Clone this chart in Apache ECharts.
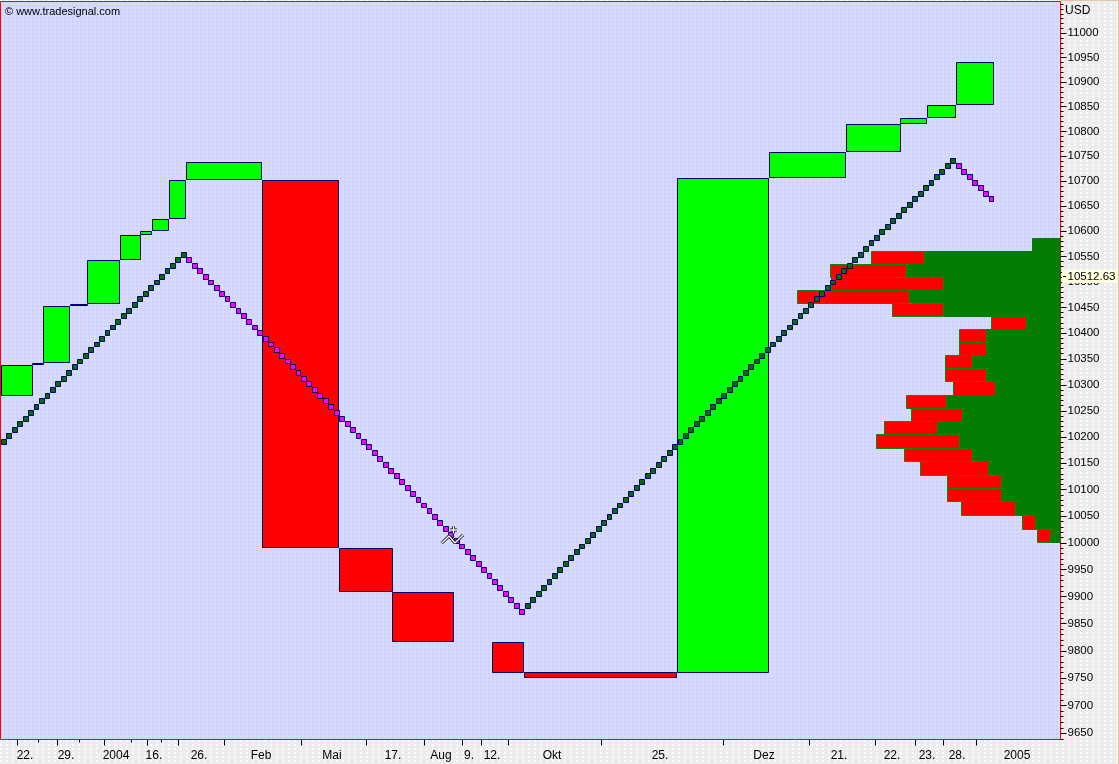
<!DOCTYPE html>
<html><head><meta charset="utf-8">
<style>
html,body{margin:0;padding:0;width:1119px;height:764px;overflow:hidden}
#page{position:relative;width:1119px;height:764px;background-color:#ececec;
 background-image:radial-gradient(circle at 1px 1px,#fbfbfb .7px,transparent .8px);background-size:6px 4px}
#plot{position:absolute;left:0;top:1px;width:1060px;height:739px;background-color:#d6daff;
 background-image:radial-gradient(circle at 1px 1px,#cdd1f8 .7px,transparent .8px);background-size:4px 4px}
#edgeR{position:absolute;left:1118px;top:0;width:1px;height:764px;background:#dcc9a8}
#edgeT{position:absolute;left:1061px;top:0;width:58px;height:1px;background:#dcc9a8}
#chart{position:absolute;left:0;top:0;width:1119px;height:764px}
</style></head><body><div id="page"><div id="plot"></div><div id="edgeR"></div><div id="edgeT"></div><div id="chart"></div></div>
<script src="https://cdn.jsdelivr.net/npm/echarts@6/dist/echarts.min.js"></script>
<script>
// Price boxes: bar index start / end, open / close
const boxStart=[-0.37,5.44,7.33,12.28,15.39,21.44,25.23,27.3,30.42,33.53,47.46,61.57,71.41,89.61,95.47,123.55,140.45,154.43,164.5,169.27,174.64];
const boxEnd=[5.31,7.28,12.22,15.34,21.26,25.11,27.19,30.24,33.35,47.35,61.46,71.32,82.5,95.36,123.42,140.31,154.34,164.41,169.17,174.53,181.42];
const boxOpen=[10280,10339,10344,10453,10457,10544.3,10593.6,10601.6,10625.6,10703,10701,9990,9908,9816,9759.6,9761,10707,10759,10816,10828,10854.5];
const boxClose=[10338,10341,10451,10455,10542.3,10591.8,10599.7,10623.5,10701,10737,9992,9910,9817,9761,9751,10705,10757,10814,10826,10852,10940];
// Swing line, one value per bar
const swingValues=[10192,10203,10214,10225,10236,10247,10258,10269,10280,10291,10302,10313,10324,10335,10346,10357,10368,10379,10390,10401,10412,10423,10434,10445,10456,10467,10478,10489,10500,10511,10522,10533,10544,10555,
10544,10533,10522,10511,10500,10489,10478,10467,10456,10445,10434,10423,10412,10401,10390,10379,10368,10357,10346,10335,10324,10313,10302,10291,10280,10269,10258,10247,10236,10225,10214,10203,10192,10181,10170,10159,10148,10137,10126,10115,10104,10093,10082,10071,10060,10049,10038,10027,10016,10005,9994,9983,9972,9961,9950,9939,9928,9917,9906,9895,9884,9873,
9884,9895,9906,9917,9928,9939,9950,9961,9972,9983,9994,10005,10016,10027,10038,10049,10060,10071,10082,10093,10104,10115,10126,10137,10148,10159,10170,10181,10192,10203,10214,10225,10236,10247,10258,10269,10280,10291,10302,10313,10324,10335,10346,10357,10368,10379,10390,10401,10412,10423,10434,10445,10456,10467,10478,10489,10500,10511,10522,10533,10544,10555,10566,10577,10588,10599,10610,10621,10632,10643,10654,10665,10676,10687,10698,10709,10720,10731,10742,
10731,10720,10709,10698,10687,10676,10665];
// Volume profile: price band edges and volumes per band, top band first
const bandEdges=[10586,10561,10535,10508,10484,10458,10432,10408,10382,10357,10331,10306,10280,10255,10230,10205,10178,10153,10126,10102,10077,10051,10025,10001];
const greenVolume=[27.7,136,154,116.7,150.7,116.7,34,74,74,88,74,64.7,114,98,122.7,100.7,88,72,58.7,58.7,44.7,24.7,10];
const redVolume=[0,52.7,76.3,112.7,112.7,51.7,35.3,27,27.3,27.3,41.3,42.7,40.3,51.3,53.7,83.7,68.3,68.3,54.7,54.7,54.7,13.7,13];
const lastPrice=10512.63;
// Axes
const priceLabels=[9650,9700,9750,9800,9850,9900,9950,10000,10050,10100,10150,10200,10250,10300,10350,10400,10450,10500,10550,10600,10650,10700,10750,10800,10850,10900,10950,11000];
const priceMinor=[9640,9660,9670,9680,9690,9710,9720,9730,9740,9760,9770,9780,9790,9810,9820,9830,9840,9860,9870,9880,9890,9910,9920,9930,9940,9960,9970,9980,9990,10010,10020,10030,10040,10060,10070,10080,10090,10110,10120,10130,10140,10160,10170,10180,10190,10210,10220,10230,10240,10260,10270,10280,10290,10310,10320,10330,10340,10360,10370,10380,10390,10410,10420,10430,10440,10460,10470,10480,10490,10510,10520,10530,10540,10560,10570,10580,10590,10610,10620,10630,10640,10660,10670,10680,10690,10710,10720,10730,10740,10760,10770,10780,10790,10810,10820,10830,10840,10860,10870,10880,10890,10910,10920,10930,10940,10960,10970,10980,10990,11010,11020,11030,11040,11050,11060];
const timeLabels=["22.","29.","2004","16.","26.","Feb","Mai","17.","Aug","9.","12.","Okt","25.","Dez","21.","22.","23.","28.","2005"];
const timeLabelAt=[3.98,11.49,20.65,27.6,35.86,47.23,60.23,71.41,80.21,85.34,89.55,100.55,120.34,139.4,153.14,162.85,169.27,174.77,185.76];
const timeTicks=[2.53,9.93,18.51,26.35,32.05,40.5,54.63,66.54,77.15,84.07,87.61,92.6,109.6,132,147.63,159.74,167.07,172.24,178.25];
const timeMinorTicks=[6.4,13.93,23.47,28.97];

const NAVY='#000070',FONT='"Liberation Sans",Arial,sans-serif';
const crisp=v=>Math.floor(v)+0.5;
const chart=echarts.init(document.getElementById('chart'),null,{renderer:'canvas'});
const xMin=-0.513,xMax=193.73;
const labelByPos=new Map(timeLabelAt.map((p,i)=>[p,timeLabels[i]]));

function renderBox(params,api){
  const a=api.coord([api.value(0),api.value(2)]),b=api.coord([api.value(1),api.value(3)]);
  const x1=crisp(Math.min(a[0],b[0])),x2=crisp(Math.max(a[0],b[0]));
  const y1=crisp(Math.min(a[1],b[1])),y2=crisp(Math.max(a[1],b[1]));
  const up=api.value(3)>api.value(2);
  return {type:'rect',shape:{x:x1,y:y1,width:x2-x1,height:y2-y1},
    style:{fill:up?'#00ff00':'#ff0000',stroke:NAVY,lineWidth:1}};
}
function renderDot(params,api){
  const c=api.coord([api.value(0),api.value(1)]);
  const l=Math.round(c[0]-2.45)+.5,r=Math.round(c[0]+2.45)+.5,t=Math.round(c[1]-2.45)+.5,b=Math.round(c[1]+2.45)+.5;
  const up=api.value(2)>0;
  return {type:'rect',shape:{x:l,y:t,width:r-l,height:b-t},
    style:{fill:up?'#007000':'#ff00ff',stroke:NAVY,lineWidth:1}};
}
function renderBand(params,api){
  const low=api.value(0),high=api.value(1),g=api.value(2),red=api.value(3);
  const pG=api.coord([g,high]),pR=api.coord([g+red,low]),pE=api.coord([0,low]);
  const y1=crisp(pG[1]),y2=crisp(pE[1]),xg=crisp(pG[0]),xr=crisp(pR[0]);
  const kids=[{type:'rect',shape:{x:xg,y:y1,width:pE[0]-xg-0.5,height:y2-y1},style:{fill:'#057d05',stroke:'#057d05',lineWidth:1}}];
  if(red>0)kids.push({type:'rect',shape:{x:xr,y:y1,width:xg-xr,height:y2-y1},style:{fill:'#ff0000',stroke:'#058a05',lineWidth:1}});
  return {type:'group',children:kids};
}
function renderLast(params,api){
  const c=api.coord([xMax,api.value(0)]);
  const x=c[0]+1.5,y=Math.round(c[1]);
  return {type:'group',children:[
    {type:'rect',shape:{x:x,y:y-6,width:55,height:13},style:{fill:'#ffffe0'}},
    {type:'rect',shape:{x:x+1,y:y,width:3,height:1},style:{fill:'#000'}},
    {type:'text',x:x+5.5,y:y+1,style:{text:'10512.63',font:'11.5px '+FONT,fill:'#000',textAlign:'left',textVerticalAlign:'middle'}}
  ]};
}
const cursorPaths=[[[441.7,543.3],[449,536]],[[463,535],[455,543]],[[449,536],[455,543]],[[453.5,526.5],[453.5,533.5]],[[450,530],[457,530]]];
const cursorGraphics=[];
cursorPaths.forEach(p=>cursorGraphics.push({type:'polyline',shape:{points:p},style:{stroke:'#000',lineWidth:3,fill:null},z:50}));
cursorPaths.forEach(p=>cursorGraphics.push({type:'polyline',shape:{points:p},style:{stroke:'#fff',lineWidth:1.4,fill:null},z:51}));

const bands=greenVolume.map((g,i)=>[bandEdges[i+1],bandEdges[i],g,redVolume[i]]);
const yBase={type:'log',logBase:10,min:9638.8,max:11065.6,position:'right',splitLine:{show:false},axisLine:{show:false,onZero:false},minorTick:{show:false},minorSplitLine:{show:false}};
const xBase={type:'value',min:xMin,max:xMax,position:'bottom',splitLine:{show:false},axisLine:{show:false,onZero:false}};
const plotRect={left:.5,top:1.5,width:1060,height:738};

chart.setOption({
  animation:false,
  backgroundColor:'transparent',
  title:[
    {text:'© www.tradesignal.com',left:5,top:6,padding:0,textStyle:{fontFamily:FONT,fontSize:11,fontWeight:'normal',color:'#000'}},
    {text:'USD',left:1065,top:5,padding:0,textStyle:{fontFamily:FONT,fontSize:12,fontWeight:'normal',color:'#000'}}
  ],
  grid:[
    Object.assign({},plotRect,{show:true,backgroundColor:'transparent',borderColor:'#ff0000',borderWidth:1}),
    Object.assign({},plotRect,{show:false})
  ],
  xAxis:[
    Object.assign({},xBase,{gridIndex:0,axisTick:{show:true,length:6,lineStyle:{color:'#000',width:1},customValues:timeTicks},
      axisLabel:{show:true,margin:10,fontFamily:FONT,fontSize:12,color:'#000',customValues:timeLabelAt,hideOverlap:false,showMinLabel:true,showMaxLabel:true,formatter:v=>labelByPos.get(v)||''}}),
    Object.assign({},xBase,{gridIndex:1,axisTick:{show:true,length:3,lineStyle:{color:'#000',width:1},customValues:timeMinorTicks},axisLabel:{show:false}}),
    {type:'value',gridIndex:0,show:false,min:0,max:1060,inverse:true,position:'top',axisLine:{onZero:false}}
  ],
  yAxis:[
    Object.assign({},yBase,{gridIndex:0,axisTick:{show:true,length:6,lineStyle:{color:'#000'},customValues:priceLabels},
      axisLabel:{show:true,margin:7,padding:[2,0,0,0],fontFamily:FONT,fontSize:11.5,color:'#000',customValues:priceLabels,formatter:v=>String(Math.round(v))}}),
    Object.assign({},yBase,{gridIndex:1,axisTick:{show:true,length:3,lineStyle:{color:'#000'},customValues:priceMinor},axisLabel:{show:false}})
  ],
  graphic:cursorGraphics,
  series:[
    {type:'custom',name:'Volume',xAxisIndex:2,yAxisIndex:0,z:2,renderItem:renderBand,data:bands,encode:{x:[2],y:[0,1]}},
    {type:'custom',name:'Boxes',xAxisIndex:0,yAxisIndex:0,z:3,renderItem:renderBox,data:boxStart.map((s,i)=>[s,boxEnd[i],boxOpen[i],boxClose[i]]),encode:{x:[0,1],y:[2,3]}},
    {type:'custom',name:'Swing',xAxisIndex:0,yAxisIndex:0,z:4,renderItem:renderDot,data:swingValues.map((v,i)=>[i,v,(i===0||v>swingValues[i-1])?1:0]),encode:{x:0,y:1}},
    {type:'custom',name:'Last',xAxisIndex:0,yAxisIndex:0,z:10,renderItem:renderLast,clip:false,data:[[lastPrice]],encode:{y:0}}
  ]
});
</script></body></html>
